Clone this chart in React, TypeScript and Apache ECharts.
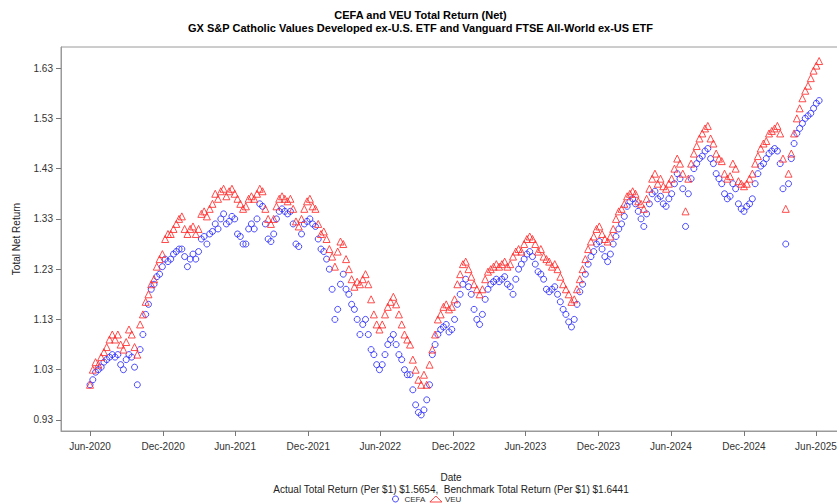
import React, { useEffect, useRef } from "react";
import * as echarts from "echarts";

// Weekly observations starting 2020-06-30
const START_YEAR = 2020;
const START_MONTH = 5; // June (0-based)
const START_DAY = 30;

const VEU: number[] = [
  1.00, 1.03, 1.045, 1.04, 1.055, 1.065, 1.075, 1.09, 1.10, 1.09,
  1.10, 1.08, 1.07, 1.085, 1.11, 1.10, 1.075, 1.06, 1.12, 1.14,
  1.165, 1.18, 1.20, 1.21, 1.235, 1.25, 1.26, 1.29, 1.30, 1.30,
  1.31, 1.32, 1.33, 1.335, 1.31, 1.30, 1.31, 1.315, 1.30, 1.31,
  1.34, 1.345, 1.335, 1.35, 1.36, 1.38, 1.37, 1.385, 1.39, 1.375,
  1.385, 1.39, 1.38, 1.37, 1.36, 1.35, 1.355, 1.37, 1.375, 1.37,
  1.38, 1.39, 1.385, 1.35, 1.33, 1.32, 1.33, 1.355, 1.37, 1.375,
  1.37, 1.365, 1.37, 1.35, 1.325, 1.315, 1.33, 1.35, 1.365, 1.37,
  1.355, 1.35, 1.32, 1.30, 1.305, 1.29, 1.27, 1.255, 1.235, 1.265,
  1.285, 1.28, 1.25, 1.23, 1.21, 1.195, 1.205, 1.20, 1.21, 1.22,
  1.20, 1.17, 1.14, 1.12, 1.11, 1.12, 1.14, 1.155, 1.165, 1.175,
  1.16, 1.14, 1.12, 1.10, 1.09, 1.08, 1.05, 1.03, 1.01, 1.00,
  1.02, 1.00, 1.04, 1.07, 1.10, 1.13, 1.14, 1.155, 1.16, 1.15,
  1.155, 1.17, 1.20, 1.22, 1.24, 1.245, 1.23, 1.215, 1.20, 1.19,
  1.18, 1.19, 1.21, 1.225, 1.23, 1.235, 1.24, 1.235, 1.24, 1.245,
  1.235, 1.24, 1.255, 1.265, 1.27, 1.265, 1.28, 1.29, 1.295, 1.29,
  1.28, 1.265, 1.27, 1.255, 1.25, 1.245, 1.235, 1.24, 1.23, 1.215,
  1.20, 1.19, 1.18, 1.165, 1.17, 1.19, 1.21, 1.23, 1.25, 1.27,
  1.285, 1.295, 1.31, 1.315, 1.30, 1.29, 1.285, 1.295, 1.31, 1.33,
  1.345, 1.35, 1.36, 1.375, 1.38, 1.385, 1.38, 1.365, 1.36, 1.35,
  1.37, 1.39, 1.41, 1.42, 1.40, 1.41, 1.395, 1.39, 1.40, 1.41,
  1.43, 1.45, 1.44, 1.42, 1.345, 1.41, 1.44, 1.46, 1.475, 1.49,
  1.50, 1.51, 1.515, 1.49, 1.48, 1.46, 1.45, 1.445, 1.42, 1.41,
  1.415, 1.44, 1.43, 1.405, 1.40, 1.395, 1.40, 1.41, 1.42, 1.44,
  1.455, 1.47, 1.48, 1.485, 1.50, 1.505, 1.51, 1.515, 1.50, 1.45,
  1.35, 1.42, 1.46, 1.50, 1.53, 1.55, 1.57, 1.585, 1.595, 1.61,
  1.625, 1.635, 1.6441,
];

const CEFA: number[] = [
  1.00, 1.01, 1.025, 1.03, 1.035, 1.045, 1.05, 1.055, 1.06, 1.055,
  1.06, 1.04, 1.03, 1.05, 1.06, 1.055, 1.035, 1.00, 1.07, 1.10,
  1.14, 1.16, 1.19, 1.20, 1.215, 1.22, 1.235, 1.25, 1.245, 1.25,
  1.26, 1.265, 1.27, 1.27, 1.255, 1.235, 1.25, 1.26, 1.25, 1.265,
  1.29, 1.295, 1.28, 1.30, 1.305, 1.32, 1.31, 1.33, 1.34, 1.32,
  1.325, 1.335, 1.33, 1.30, 1.295, 1.28, 1.28, 1.31, 1.32, 1.31,
  1.33, 1.36, 1.355, 1.32, 1.29, 1.285, 1.30, 1.33, 1.345, 1.35,
  1.345, 1.34, 1.345, 1.32, 1.28, 1.275, 1.30, 1.32, 1.325, 1.33,
  1.32, 1.315, 1.29, 1.27, 1.265, 1.25, 1.23, 1.19, 1.13, 1.15,
  1.20, 1.22, 1.19, 1.18, 1.16, 1.15, 1.13, 1.10, 1.12, 1.13,
  1.10, 1.07, 1.06, 1.04, 1.03, 1.04, 1.06, 1.08, 1.09, 1.10,
  1.08, 1.06, 1.05, 1.03, 1.02, 1.02, 0.99, 0.96, 0.945, 0.94,
  0.95, 0.97, 1.00, 1.06, 1.08, 1.10, 1.11, 1.115, 1.12, 1.105,
  1.11, 1.13, 1.16, 1.18, 1.20, 1.21, 1.195, 1.18, 1.15, 1.13,
  1.12, 1.14, 1.17, 1.19, 1.20, 1.205, 1.21, 1.205, 1.21, 1.215,
  1.20, 1.195, 1.18, 1.21, 1.23, 1.24, 1.25, 1.26, 1.265, 1.255,
  1.24, 1.225, 1.22, 1.21, 1.19, 1.185, 1.19, 1.195, 1.18, 1.165,
  1.15, 1.14, 1.125, 1.115, 1.13, 1.16, 1.185, 1.20, 1.22, 1.24,
  1.255, 1.265, 1.28, 1.285, 1.27, 1.255, 1.245, 1.26, 1.28, 1.295,
  1.31, 1.32, 1.335, 1.355, 1.365, 1.37, 1.36, 1.345, 1.33, 1.315,
  1.34, 1.36, 1.38, 1.385, 1.37, 1.375, 1.36, 1.355, 1.37, 1.38,
  1.40, 1.42, 1.41, 1.39, 1.315, 1.38, 1.41, 1.43, 1.44, 1.45,
  1.455, 1.465, 1.47, 1.45, 1.44, 1.42, 1.41, 1.40, 1.38, 1.37,
  1.375, 1.40, 1.39, 1.36, 1.35, 1.345, 1.355, 1.36, 1.37, 1.40,
  1.42, 1.435, 1.44, 1.45, 1.46, 1.465, 1.47, 1.465, 1.44, 1.39,
  1.28, 1.40, 1.45, 1.48, 1.50, 1.51, 1.52, 1.53, 1.535, 1.54,
  1.55, 1.56, 1.5654,
];

const X_TICK_LABELS: string[] = [
  "Jun-2020", "Dec-2020", "Jun-2021", "Dec-2021", "Jun-2022", "Dec-2022",
  "Jun-2023", "Dec-2023", "Jun-2024", "Dec-2024", "Jun-2025",
];
const X_TICK_DATES: [number, number, number][] = [
  [2020, 5, 30], [2020, 11, 31], [2021, 5, 30], [2021, 11, 31], [2022, 5, 30], [2022, 11, 31],
  [2023, 5, 30], [2023, 11, 31], [2024, 5, 30], [2024, 11, 31], [2025, 5, 30],
];
const Y_TICKS: number[] = [0.93, 1.03, 1.13, 1.23, 1.33, 1.43, 1.53, 1.63];

const TITLE = "CEFA and VEU Total Return (Net)\nGX S&P Catholic Values Developed ex-U.S. ETF and Vanguard FTSE All-World ex-US ETF";
const X_NAME = "Date\nActual Total Return (Per $1) $1.5654,  Benchmark Total Return (Per $1) $1.6441";

const FONT = "'Liberation Sans', Arial, Helvetica, sans-serif";

export default function App() {
  const ref = useRef<HTMLDivElement>(null);
  useEffect(() => {
    if (!ref.current) return;
    const chart = echarts.init(ref.current, null, { renderer: "svg" });
    const dateAt = (i: number) => new Date(START_YEAR, START_MONTH, START_DAY + 7 * i).getTime();
    const tickTimes = X_TICK_DATES.map(([y, m, d]) => new Date(y, m, d).getTime());
    const blueData = CEFA.map((v, i) => [dateAt(i), v]);
    const redData = VEU.map((v, i) => [dateAt(i), v]);

    chart.setOption({
      animation: false,
      backgroundColor: "#ffffff",
      title: {
        text: TITLE,
        left: "center",
        top: 3,
        textStyle: {
          fontFamily: FONT,
          fontSize: 11,
          fontWeight: "bold",
          color: "#000",
          lineHeight: 13,
        },
      },
      legend: {
        left: 392,
        top: 495,
        itemWidth: 12,
        itemHeight: 6,
        itemGap: 4,
        padding: 0,
        textStyle: { fontFamily: FONT, fontSize: 8, color: "#333", padding: [0, 0, 0, -2] },
        data: [
          { name: "CEFA", icon: "circle", itemStyle: { color: "rgba(0,0,0,0)", borderColor: "#2323ff", borderWidth: 1 } },
          { name: "VEU", icon: "triangle", itemStyle: { color: "rgba(0,0,0,0)", borderColor: "#ff2323", borderWidth: 1 } },
        ],
      },
      grid: {
        left: 61,
        top: 47,
        right: 0,
        bottom: 73,
        show: true,
        borderColor: "#9a9a9a",
        borderWidth: 1,
        containLabel: false,
      },
      xAxis: {
        type: "value",
        min: new Date(2020, 3, 18).getTime(),
        max: new Date(2025, 8, 1).getTime(),
        name: X_NAME,
        nameLocation: "middle",
        nameGap: 40,
        nameTextStyle: { fontFamily: FONT, fontSize: 10, color: "#222", lineHeight: 12 },
        axisLine: { show: true, lineStyle: { color: "#9a9a9a", width: 1 } },
        axisTick: { show: true, length: 5, customValues: tickTimes, lineStyle: { color: "#777" } },
        axisLabel: {
          customValues: tickTimes,
          margin: 10,
          fontFamily: FONT,
          fontSize: 10,
          color: "#333",
          hideOverlap: false,
          showMinLabel: true,
          showMaxLabel: true,
          formatter: (val: number) => {
            const idx = tickTimes.findIndex((t) => Math.abs(t - val) < 86400000);
            return idx >= 0 ? X_TICK_LABELS[idx] : "";
          },
        },
        splitLine: { show: false },
      },
      yAxis: {
        type: "value",
        min: 0.908,
        max: 1.672,
        name: "Total Net Return",
        nameLocation: "middle",
        nameGap: 40,
        nameTextStyle: { fontFamily: FONT, fontSize: 10, color: "#222" },
        axisLine: { show: true, lineStyle: { color: "#9a9a9a", width: 1 } },
        axisTick: { show: true, length: 5, customValues: Y_TICKS, lineStyle: { color: "#777" } },
        axisLabel: {
          customValues: Y_TICKS,
          margin: 8,
          fontFamily: FONT,
          fontSize: 10,
          color: "#333",
          formatter: (v: number) => v.toFixed(2),
        },
        splitLine: { show: false },
      },
      series: [
        {
          name: "CEFA",
          type: "scatter",
          symbol: "circle",
          symbolSize: 6,
          data: blueData,
          itemStyle: { color: "rgba(0,0,0,0)", borderColor: "#2b2bff", borderWidth: 1, opacity: 0.85 },
        },
        {
          name: "VEU",
          type: "scatter",
          symbol: "triangle",
          symbolSize: 7,
          data: redData,
          itemStyle: { color: "rgba(0,0,0,0)", borderColor: "#ff2b2b", borderWidth: 1, opacity: 0.85 },
        },
      ],
    });
    return () => chart.dispose();
  }, []);
  return (
    <div
      ref={ref}
      style={{ position: "fixed", left: 0, top: 0, width: 841, height: 504 }}
    />
  );
}
